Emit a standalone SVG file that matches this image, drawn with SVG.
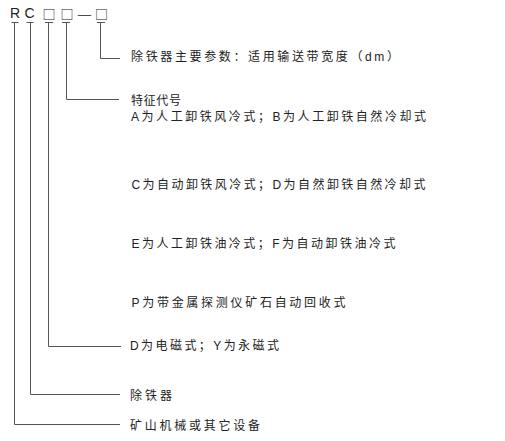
<svg xmlns="http://www.w3.org/2000/svg" width="505" height="441" viewBox="0 0 505 441">
<style>
text{font-family:"Liberation Sans","Noto Sans CJK SC",sans-serif;font-size:12px;fill:#222}
.code{font-size:14px}
.box{font-family:"Noto Sans CJK SC",sans-serif;font-size:13px}
.c{fill:none;stroke:#555;stroke-width:1}
</style>
<rect width="505" height="441" fill="#fff"/>
<g id="code">
<text class="code" x="10" y="18">R</text>
<text class="code" x="24.5" y="18">C</text>
<text class="box" x="42.5" y="18.5">□</text>
<text class="box" x="60.5" y="18.5">□</text>
<text class="box" x="77" y="18.5" textLength="15" lengthAdjust="spacingAndGlyphs">—</text>
<text class="box" x="95" y="18.5">□</text>
</g>
<g id="connectors">
<path class="c" d="M11.5 22.5H18.5M14.5 22.5V424.5H120"/>
<path class="c" d="M26.5 22.5H33.5M30.5 22.5V394.5H120"/>
<path class="c" d="M45 22.5H53M48.5 22.5V346.5H121"/>
<path class="c" d="M62 22.5H70M66.5 22.5V99.5H119"/>
<path class="c" d="M97 22.5H105M100.5 22.5V58.5H120"/>
</g>
<g id="n-width"><text x="131" y="60.5" textLength="268" lengthAdjust="spacing">除铁器主要参数：适用输送带宽度（dm）</text></g>
<g id="n-feature">
<text x="131" y="105" textLength="50" lengthAdjust="spacing">特征代号</text>
<text x="131" y="121" textLength="295" lengthAdjust="spacing">A为人工卸铁风冷式；B为人工卸铁自然冷却式</text>
<text x="131.5" y="189" textLength="294" lengthAdjust="spacing">C为自动卸铁风冷式；D为自然卸铁自然冷却式</text>
<text x="131.5" y="248" textLength="264" lengthAdjust="spacing">E为人工卸铁油冷式；F为自动卸铁油冷式</text>
<text x="131.5" y="307" textLength="214" lengthAdjust="spacing">P为带金属探测仪矿石自动回收式</text>
</g>
<g id="n-type"><text x="130" y="350" textLength="149" lengthAdjust="spacing">D为电磁式；Y为永磁式</text></g>
<g id="n-remover"><text x="130" y="400" textLength="42" lengthAdjust="spacing">除铁器</text></g>
<g id="n-mining"><text x="130" y="430" textLength="130" lengthAdjust="spacing">矿山机械或其它设备</text></g>
</svg>
